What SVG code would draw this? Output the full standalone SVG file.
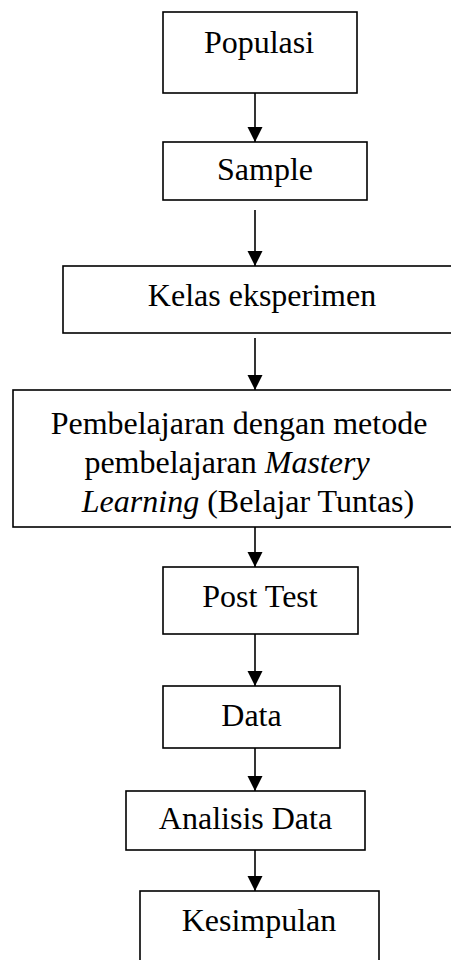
<svg xmlns="http://www.w3.org/2000/svg" width="451" height="960" viewBox="0 0 451 960">
<style>
.box{fill:#fff;stroke:#000;stroke-width:1.6}
.t{font-family:"Liberation Serif","Times New Roman",serif;font-size:32px;fill:#000;text-anchor:middle}
.i{font-style:italic}
.c{stroke:#000;stroke-width:1.6;fill:none}
</style>
<defs>
<marker id="ah" markerUnits="userSpaceOnUse" markerWidth="16" markerHeight="16" refX="15" refY="7.5" orient="auto">
<path d="M0,0 L15,7.5 L0,15 z" fill="#000"/>
</marker>
</defs>
<rect x="0" y="0" width="451" height="960" fill="#fff"/>
<g id="n1"><rect class="box" x="163" y="12" width="194" height="81"/><text class="t" x="259" y="53">Populasi</text></g>
<g id="n2"><rect class="box" x="163" y="142" width="204" height="58"/><text class="t" x="265" y="180">Sample</text></g>
<g id="n3"><rect class="box" x="63" y="266" width="400" height="67"/><text class="t" x="262" y="306">Kelas eksperimen</text></g>
<g id="n4"><rect class="box" x="13" y="390" width="450" height="137"/>
<text class="t" x="239" y="434">Pembelajaran dengan metode</text>
<text class="t" x="227" y="473">pembelajaran <tspan class="i">Mastery</tspan></text>
<text class="t" x="248" y="512"><tspan class="i">Learning</tspan> (Belajar Tuntas)</text></g>
<g id="n5"><rect class="box" x="163" y="567" width="195" height="67"/><text class="t" x="260" y="607">Post Test</text></g>
<g id="n6"><rect class="box" x="163" y="686" width="177" height="62"/><text class="t" x="251.5" y="726">Data</text></g>
<g id="n7"><rect class="box" x="126" y="791" width="239" height="59"/><text class="t" x="245.5" y="829">Analisis Data</text></g>
<g id="n8"><rect class="box" x="140" y="891" width="239" height="80"/><text class="t" x="259" y="931">Kesimpulan</text></g>
<g id="connectors">
<line class="c" x1="255" y1="93" x2="255" y2="142" marker-end="url(#ah)"/>
<line class="c" x1="255" y1="210" x2="255" y2="266" marker-end="url(#ah)"/>
<line class="c" x1="255" y1="338" x2="255" y2="390" marker-end="url(#ah)"/>
<line class="c" x1="255" y1="527" x2="255" y2="567" marker-end="url(#ah)"/>
<line class="c" x1="255" y1="634" x2="255" y2="686" marker-end="url(#ah)"/>
<line class="c" x1="255" y1="748" x2="255" y2="791" marker-end="url(#ah)"/>
<line class="c" x1="255" y1="850" x2="255" y2="891" marker-end="url(#ah)"/>
</g>
</svg>
